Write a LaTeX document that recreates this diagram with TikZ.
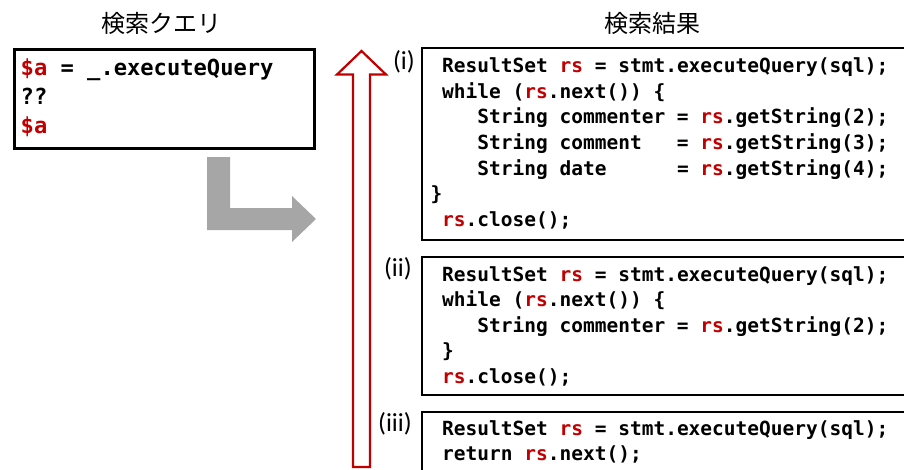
\documentclass[tikz,border=0pt]{standalone}
\usepackage{fontspec}
\setmainfont{Carlito}
\newfontfamily\jpfont{Noto Sans CJK JP}
\newfontfamily\codefont{DejaVu Sans Mono}
\definecolor{codered}{HTML}{C00000}
\definecolor{arrowgray}{HTML}{A6A6A6}
\newcommand\kw[1]{\textcolor{codered}{#1}}

\tikzset{
  title/.style={font=\jpfont\fontsize{24}{28}\selectfont, inner sep=0pt},
  querytext/.style={anchor=base west, inner sep=0pt,
    font=\codefont\bfseries\fontsize{22.1}{28}\selectfont},
  codeline/.style={anchor=base west, inner sep=0pt,
    font=\codefont\bfseries\fontsize{19.5}{25}\selectfont},
  querybox/.style={draw, line width=3pt, anchor=north west, inner sep=0pt},
  codebox/.style={draw, line width=2pt, anchor=north west, inner sep=0pt},
  casetag/.style={anchor=base east, inner sep=0pt, font=\fontsize{26}{30}\selectfont},
}

\begin{document}
\begin{tikzpicture}[x=1pt, y=-1pt]
\useasboundingbox (0,0) rectangle (904,469);
\clip (0,0) rectangle (904,469);

% headings
\node[title] (qtitle) at (161,23) {検索クエリ};
\node[title] (rtitle) at (652,23) {検索結果};

% query pattern
\node[querybox, minimum width=300.8pt, minimum height=99.7pt] (qbox) at (12.5,47.5) {};
\node[querytext] (q1) at (20.5,75.5)  {\kw{\$a} = \_.executeQuery};
\node[querytext] (q2) at (20.5,104.2) {??};
\node[querytext] (q3) at (20.5,133)   {\kw{\$a}};

% grey elbow arrow from the query to the results
\fill[arrowgray] (207,157) -- (230,157) -- (230,208) -- (292,208) -- (292,196)
  -- (316,219) -- (292,242) -- (292,230) -- (207,230) -- cycle;

% hollow red arrow along the ranked results
\draw[codered, line width=2.2pt, line join=miter]
  (353,467) -- (353,74.5) -- (337,74.5) -- (361.5,51) -- (386,74.5)
  -- (370,74.5) -- (370,467) -- cycle;

% result (i)
\node[codebox, minimum width=500pt, minimum height=192pt] (boxi) at (421,47) {};
\node[casetag] (tagi) at (415,69) {(i)};
\node[codeline] (i1) at (442,72.7)  {ResultSet \kw{rs} = stmt.executeQuery(sql);};
\node[codeline] (i2) at (442,98.3)  {while (\kw{rs}.next()) \{};
\node[codeline] (i3) at (442,123.9) {\phantom{Str}String commenter = \kw{rs}.getString(2);};
\node[codeline] (i4) at (442,149.5) {\phantom{Str}String comment~~~= \kw{rs}.getString(3);};
\node[codeline] (i5) at (442,175.1) {\phantom{Str}String date~~~~~~= \kw{rs}.getString(4);};
\node[codeline] (i6) at (430.3,200.7) {\}};
\node[codeline] (i7) at (442,226.3) {\kw{rs}.close();};

% result (ii)
\node[codebox, minimum width=500pt, minimum height=138.3pt] (boxii) at (421,256) {};
\node[casetag] (tagii) at (412,276) {(ii)};
\node[codeline] (ii1) at (442,281)   {ResultSet \kw{rs} = stmt.executeQuery(sql);};
\node[codeline] (ii2) at (442,306.6) {while (\kw{rs}.next()) \{};
\node[codeline] (ii3) at (442,332.2) {\phantom{Str}String commenter = \kw{rs}.getString(2);};
\node[codeline] (ii4) at (442,357.8) {\}};
\node[codeline] (ii5) at (442,383.4) {\kw{rs}.close();};

% result (iii)
\node[codebox, minimum width=500pt, minimum height=80pt] (boxiii) at (421,411) {};
\node[casetag] (tagiii) at (412,431.5) {(iii)};
\node[codeline] (iii1) at (442,435)   {ResultSet \kw{rs} = stmt.executeQuery(sql);};
\node[codeline] (iii2) at (442,460.6) {return \kw{rs}.next();};
\end{tikzpicture}
\end{document}
